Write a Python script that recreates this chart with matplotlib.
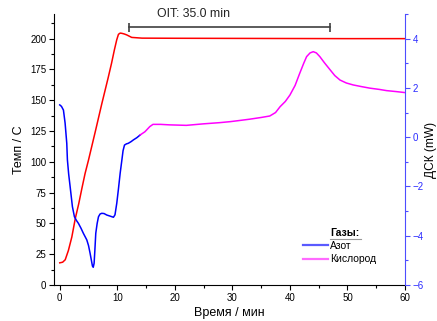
import matplotlib
matplotlib.use("Agg")
import matplotlib.pyplot as plt
from matplotlib.lines import Line2D
from matplotlib.ticker import MultipleLocator

plt.rcParams["font.family"] = ["Liberation Sans", "DejaVu Sans"]

# ── Data ─────────────────────────────────────────────────────────────────────

# temperature programme (left axis)
time_temp = [0, 0.5, 0.95, 1.5, 2.1, 2.7, 3.3, 3.85, 4.4, 5.0, 6.2, 7.3, 8.4,
             9.0, 9.5, 9.9, 10.2, 10.5, 10.8, 11.2, 11.65, 12.5, 14.3, 20, 30,
             40, 50, 60]
temp = [18, 18.5, 20.5, 28, 39, 54, 66, 78.5, 90.5, 101.5, 125, 147, 168,
        180, 191, 199, 203.5, 204.5, 204.3, 203.8, 203, 201, 200.4, 200.3,
        200.2, 200.1, 200, 200]

# DSC signal under nitrogen (right axis)
time_n2 = [0, 0.3, 0.64, 0.93, 1.22, 1.33, 1.55, 1.8, 2.2, 2.55, 2.9, 3.25,
           3.7, 4.1, 4.7, 5.0, 5.27, 5.5, 5.68, 5.82, 5.97, 6.1, 6.26, 6.5,
           6.73, 7.0, 7.3, 7.7, 8.17, 8.7, 9.33, 9.6, 9.91, 10.2, 10.5, 10.8,
           11.0, 11.25, 11.6, 11.9, 12.4, 12.8, 13.4, 13.97]
dsc_n2 = [1.31, 1.25, 1.1, 0.57, -0.25, -0.92, -1.5, -2.0, -2.82, -3.23,
          -3.38, -3.5, -3.7, -3.9, -4.17, -4.4, -4.71, -5.0, -5.23, -5.28,
          -5.12, -4.6, -3.9, -3.5, -3.23, -3.12, -3.09, -3.1, -3.16, -3.2,
          -3.25, -3.15, -2.68, -2.1, -1.46, -0.92, -0.55, -0.32, -0.27, -0.25,
          -0.18, -0.11, -0.02, 0.09]

# DSC signal under oxygen (right axis)
time_o2 = [13.97, 14.8, 15.65, 16.2, 17.5, 19.1, 22.0, 24.9, 27.8, 29.6, 31.0,
           33.0, 35.0, 36.5, 37.5, 38.3, 39.2, 40.0, 40.9, 41.7, 42.4, 42.9,
           43.5, 44.05, 44.6, 45.2, 46.0, 47.0, 47.8, 48.7, 49.8, 51.0, 52.5,
           53.9, 55.5, 56.8, 58.5, 60]
dsc_o2 = [0.09, 0.22, 0.43, 0.52, 0.52, 0.50, 0.48, 0.54, 0.59, 0.63, 0.67,
          0.73, 0.80, 0.86, 1.0, 1.24, 1.45, 1.71, 2.1, 2.59, 3.0, 3.27, 3.42,
          3.47, 3.42, 3.27, 3.02, 2.73, 2.5, 2.32, 2.2, 2.12, 2.05, 1.99, 1.94,
          1.89, 1.85, 1.81]

OIT_START, OIT_END = 12.0, 47.0
OIT_LEVEL = 209.5
OIT_LABEL = "OIT: 35.0 min"

RIGHT_BLUE = "#4d4dff"
TICK_BLUE = "#2b2bff"

# ── Figure ───────────────────────────────────────────────────────────────────

fig = plt.figure(figsize=(4.37, 3.21), dpi=100)
ax = fig.add_axes([54 / 437, 1 - 285 / 321, 351 / 437, 271 / 321])
ax2 = ax.twinx()

ax.plot(time_temp, temp, color="#ff0000", lw=1.1, zorder=3)
ax2.plot(time_n2, dsc_n2, color="#0000ff", lw=1.1)
ax2.plot(time_o2, dsc_o2, color="#ff00ff", lw=1.1)

ax.set_xlim(-1, 60)
ax.set_ylim(0, 220)
ax2.set_ylim(-6, 5)

ax.xaxis.set_major_locator(MultipleLocator(10))
ax.xaxis.set_minor_locator(MultipleLocator(5))
ax.yaxis.set_major_locator(MultipleLocator(25))
ax.yaxis.set_minor_locator(MultipleLocator(12.5))
ax2.yaxis.set_major_locator(MultipleLocator(2))
ax2.yaxis.set_minor_locator(MultipleLocator(1))

for a in (ax, ax2):
    a.spines["top"].set_visible(False)
    for s in a.spines.values():
        s.set_linewidth(0.8)
    a.tick_params(which="major", direction="out", length=3.5, width=0.8,
                  labelsize=7, pad=2)
    a.tick_params(which="minor", direction="out", length=2, width=0.8)

ax.spines["right"].set_visible(False)
ax2.spines["left"].set_visible(False)
ax2.spines["bottom"].set_visible(False)
ax2.spines["right"].set_color(RIGHT_BLUE)
ax2.tick_params(axis="y", which="both", colors=RIGHT_BLUE, labelcolor=TICK_BLUE)

ax.set_xlabel("Время / мин", fontsize=9, labelpad=3)
ax.set_ylabel("Темп / С", fontsize=9, labelpad=4)
ax2.set_ylabel("ДСК (mW)", fontsize=8.6, labelpad=1)

# OIT bar with end caps
ax.plot([OIT_START, OIT_END], [OIT_LEVEL, OIT_LEVEL], color="#404040",
        lw=1.2, clip_on=False, zorder=4)
ax.vlines([OIT_START, OIT_END], OIT_LEVEL - 4, OIT_LEVEL + 3.5,
          color="#404040", lw=1.2, clip_on=False, zorder=4)
ax.text(16.9, 219.6, OIT_LABEL, fontsize=8.8, color="#222222",
        ha="left", va="center", clip_on=False)

# legend with underlined title
handles = [
    Line2D([], [], color="#5a5aff", lw=1.6, label="Азот"),
    Line2D([], [], color="#ff6aff", lw=1.6, label="Кислород"),
]
ax.legend(handles=handles, loc="upper left", bbox_to_anchor=(0.709, 0.162),
          frameon=False, fontsize=7.5, handlelength=2.4, handletextpad=0.2,
          labelspacing=0.3, borderpad=0, borderaxespad=0)
ax.text(0.786, 0.192, "Газы:", transform=ax.transAxes, fontsize=7.5,
        fontweight="bold", ha="left", va="center")
ax.plot([0.786, 0.875], [0.170, 0.170], transform=ax.transAxes,
        color="#999999", lw=0.8, clip_on=False)

fig.savefig("out.png", dpi=100)
